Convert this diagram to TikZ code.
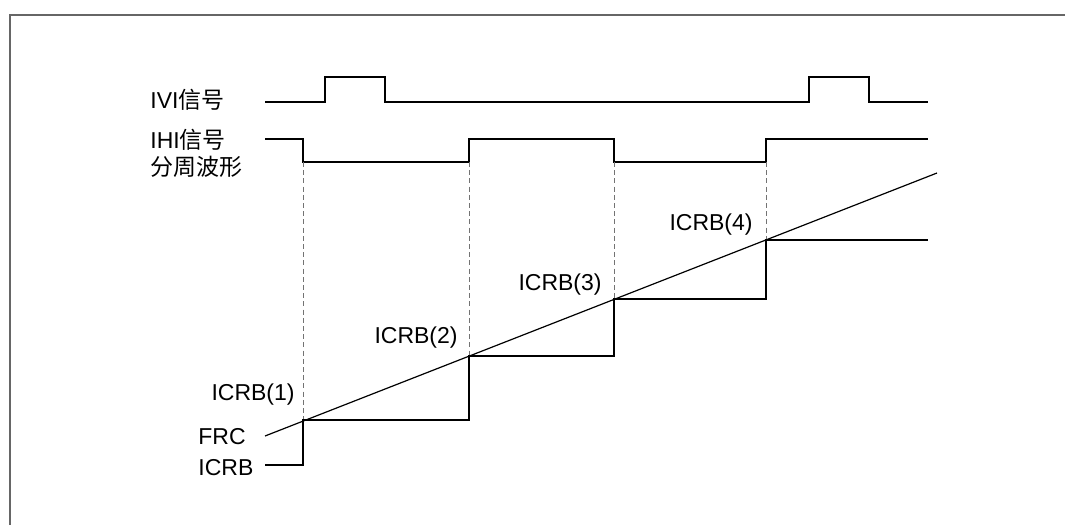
\documentclass[tikz,border=0pt]{standalone}
\usepackage{fontspec}
\setmainfont{Liberation Sans}
\newfontfamily\cjk{Noto Sans CJK SC}
\usetikzlibrary{positioning}

\begin{document}
\begin{tikzpicture}[x=0.5pt, y=-0.5pt,
    sig/.style={draw=black, line width=0.6pt},
    guide/.style={draw=black!55, dash pattern=on 2.5pt off 1.6pt, line width=0.5pt},
    frame/.style={draw=black!60, line width=0.8pt},
    lbl/.style={inner sep=0pt, font=\fontsize{11.5}{13.5}\selectfont, align=left}
]
\useasboundingbox (0,0) rectangle (1065,525);
\draw[frame] (10,525) |- (1065,15);

% left labels
\node[lbl, anchor=west] (ivilbl) at (150,100) {IVI{\cjk 信号}};
\node[lbl, anchor=west] (ihilbl) at (150,153) {IHI{\cjk 信号}\\{\cjk 分周波形}};
\node[lbl, anchor=west] (frclbl) at (198,437) {FRC};
\node[lbl, anchor=west] (icrblbl) at (198,468) {ICRB};

% capture points on FRC
\coordinate (cap1) at (303,420);
\coordinate (cap2) at (469,356);
\coordinate (cap3) at (614,299);
\coordinate (cap4) at (766,240);

\node[lbl, anchor=east] (icrb1) at (295,395) {ICRB(1)};
\node[lbl, anchor=east] (icrb2) at (458,338) {ICRB(2)};
\node[lbl, anchor=east] (icrb3) at (602,285) {ICRB(3)};
\node[lbl, anchor=east] (icrb4) at (753,225) {ICRB(4)};

% IVI
\draw[sig] (265,102) -- (325,102) -- (325,77) -- (385,77) -- (385,102)
    -- (809,102) -- (809,77) -- (869,77) -- (869,102) -- (928,102);
% IHI divided
\draw[sig] (265,139) -- (303,139) -- (303,162) -- (469,162) -- (469,139)
    -- (614,139) -- (614,162) -- (766,162) -- (766,139) -- (928,139);

% guides
\draw[guide] (303,162) -- (cap1);
\draw[guide] (469,162) -- (cap2);
\draw[guide] (614,162) -- (cap3);
\draw[guide] (766,162) -- (cap4);

% FRC
\draw[sig] (265,436) -- (937,173);
% ICRB
\draw[sig] (265,465) -| (cap1) -| (cap2) -| (cap3) -| (cap4) -- (928,240);
\end{tikzpicture}
\end{document}
